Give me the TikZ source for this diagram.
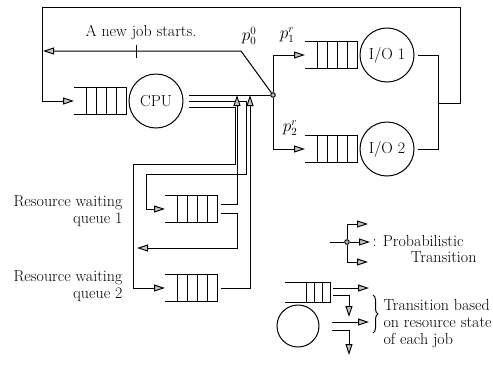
\documentclass[tikz,border=0pt]{standalone}
\usepackage{amsmath}
\usetikzlibrary{arrows.meta,positioning,calc,decorations.pathreplacing}
\tikzset{
  flowarr/.style={-{Triangle[length=11pt,width=7pt,fill=gray!45]}, line width=1pt},
  qline/.style={line width=1pt},
  srvnode/.style={draw, circle, line width=1pt, minimum size=54pt, inner sep=0pt, outer sep=0pt},
  quenode/.style={minimum width=52pt, minimum height=27pt, inner sep=0pt, outer sep=0pt},
  jdot/.style={draw, circle, fill=gray!50, minimum size=4.5pt, inner sep=0pt},
}

\begin{document}
\begin{tikzpicture}[
  x=1pt, y=-1pt,
  font=\fontsize{16}{17}\selectfont,
  line width=1pt,
]
  \useasboundingbox (0,0) rectangle (493,365);
  % servers and queues
  \node[srvnode] (cpu) at (156,101) {CPU};
  \node[quenode, left=3pt of cpu] (qcpu) {};
  \node[srvnode] (io1) at (387,55) {I/O 1};
  \node[quenode, left=3pt of io1] (qio1) {};
  \node[srvnode] (io2) at (387,149) {I/O 2};
  \node[quenode, left=3pt of io2] (qio2) {};
  \node[quenode] (qr1) at (191,209) {};
  \node[quenode] (qr2) at (191,288) {};
  % legend shapes
  \node[quenode, minimum width=45pt, minimum height=20pt] (lq) at (307.5,292) {};
  \node[srvnode, minimum size=42pt] (lc) at (298,326) {};
  \foreach \q/\n/\w in {qcpu/4/10, qio1/4/10, qio2/4/10, qr1/4/10, qr2/4/10, lq/3/8} {
    \draw[qline] (\q.north west) -- (\q.north east) -- (\q.south east) -- (\q.south west);
    \foreach \i in {1,...,\n}
      \draw[qline] ([xshift={-\i*\w}]\q.north east) -- ([xshift={-\i*\w}]\q.south east);
  }

  % junction and bends
  \node[jdot] (jn) at (273,95) {};
  \coordinate (kn) at (241,51);
  \coordinate (newend) at (43,51);
  \coordinate (tick) at (136,51);
  \coordinate (mg) at (438,103);
  \coordinate (tl) at (42,7);
  \coordinate (up1) at (237,95);
  \coordinate (up2) at (250,95);
  \coordinate (done) at (137,248);

  % I/O loop back to the CPU
  \draw ([xshift=4pt]io1.east) -| (mg);
  \draw ([xshift=4pt]io2.east) -| (mg);
  \draw[flowarr] (mg) -- ++(22,0) |- (tl) |- (qcpu.west);

  % CPU outputs
  \draw ([shift={(6,-6)}]cpu.east) -- (jn);
  \draw[flowarr] ([xshift=6pt]cpu.east) -- ++(57,0) -- ++(0,73) -| ($(qr1.west)+(-19,0)$) -- (qr1.west);
  \draw[flowarr] ([shift={(6,6)}]cpu.east) -- ++(46,0) -- ++(0,57) -| ($(qr2.west)+(-32,0)$) -- (qr2.west);

  % resource waiting queues
  \draw[flowarr] ([shift={(4,-5)}]qr1.east) -| (up1);
  \draw[flowarr] ([shift={(4,4)}]qr1.east) -| ($(up1)+(0,153)$) -- (done);
  \draw[flowarr] ([xshift=4pt]qr2.east) -| (up2);

  % branches at the junction
  \draw[flowarr] (jn) -- (kn) -- (newend);
  \draw ($(tick)+(0,-6)$) -- ($(tick)+(0,7)$);
  \draw[flowarr] (jn) |- (qio1.west);
  \draw[flowarr] (jn) |- (qio2.west);

  % labels
  \node (newjob) at (141,32) {A new job starts.};
  \node (p00) at (249,36) {$p_0^0$};
  \node (p1r) at (287,35) {$p_1^r$};
  \node (p2r) at (290,128) {$p_2^r$};
  \node[left, align=right, inner sep=1pt] (lr1) at (124,211) {Resource waiting\\queue 1};
  \node[left, align=right, inner sep=1pt] (lr2) at (124,286) {Resource waiting\\queue 2};

  % legend
  \node[jdot] (ljn) at (347,242) {};
  \coordinate (lin) at (330,242);
  \coordinate (la1) at (368,224);
  \coordinate (la2) at (370,242);
  \coordinate (la3) at (368,262);
  \draw (lin) -- (ljn);
  \draw[flowarr] (ljn) |- (la1);
  \draw[flowarr] (ljn) -- (la2);
  \draw[flowarr] (ljn) |- (la3);
  \node[right, inner sep=1pt] (lprob) at (371,241) {: Probabilistic};
  \node[left, inner sep=1pt] (ltrans) at (478,257) {Transition};

  \coordinate (lqa) at (369,288);
  \coordinate (lqb) at (349,317);
  \coordinate (lca) at (369,322);
  \coordinate (lcb) at (349,355);
  \draw[flowarr] ([shift={(3,-4)}]lq.east) -- (lqa);
  \draw[flowarr] ([shift={(3,3)}]lq.east) -| (lqb);
  \draw[flowarr] ([shift={(13,-4)}]lc.east) -- (lca);
  \draw[flowarr] ([shift={(13,4)}]lc.east) -| (lcb);
  \draw[decorate, decoration={brace, amplitude=5pt}] (373,295) -- (373,333);
  \node[right, align=left, inner sep=1pt] (lstate) at (382,324) {Transition based\\on resource state\\of each job};
\end{tikzpicture}
\end{document}
